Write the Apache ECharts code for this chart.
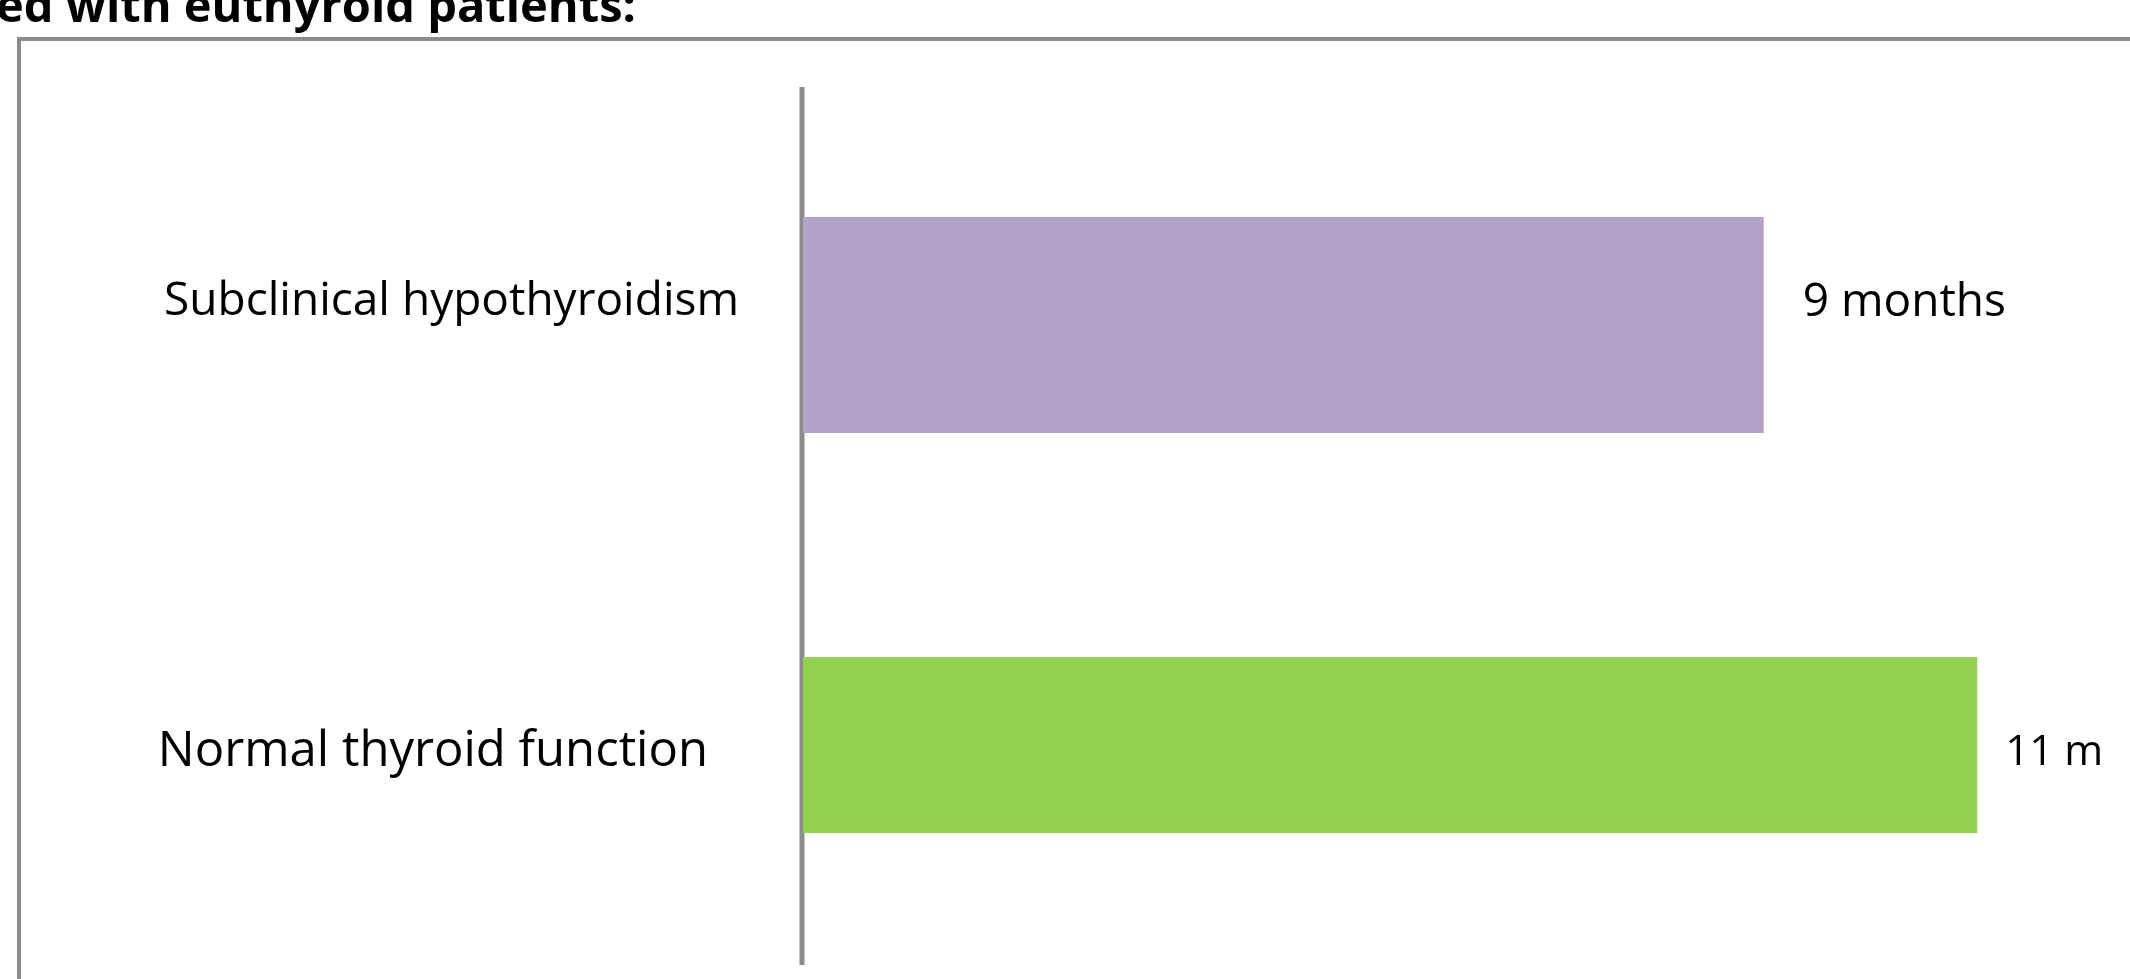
<!DOCTYPE html>
<html>
<head>
<meta charset="utf-8">
<script src="https://cdn.jsdelivr.net/npm/echarts@6/dist/echarts.min.js"></script>
<style>
  html, body { margin: 0; padding: 0; background: #fff; }
  #chrt_thyroid { width: 2130px; height: 979px; }
</style>
</head>
<body>
<div id="chrt_thyroid"></div>
<script>
// data (top to bottom)
var categories = ['Subclinical hypothyroidism', 'Normal thyroid function']
var months = [9, 11]
var valueLabels = ['9 months', '11 m']
var barColors = ['#b3a2c7', '#92d050']
var titleText = 'ed with euthyroid patients:'

// one grid per bar, the two bars are not the same thickness in the original
var rows = [
    { top: 217, height: 216, catSize: 46, catMargin: 64, catPad: [0, 0, 46, 0], valSize: 46, valDist: 39, valOffset: -22 },
    { top: 657, height: 176, catSize: 49, catMargin: 95, catPad: [14, 0, 0, 0], valSize: 42, valDist: 28, valOffset: 8 }
]

var chart = echarts.init(document.getElementById('chrt_thyroid'))

var option = {
    animation: false,
    tooltip: { show: false },
    grid: rows.map(function (r) {
        return { left: 803, right: 46, top: r.top, height: r.height, containLabel: false }
    }),
    xAxis: rows.map(function (r, i) {
        return { type: 'value', gridIndex: i, min: 0, max: 12, show: false }
    }),
    yAxis: rows.map(function (r, i) {
        return {
            type: 'category',
            gridIndex: i,
            data: [categories[i]],
            axisLine: { show: false },
            axisTick: { show: false },
            axisLabel: {
                margin: r.catMargin,
                formatter: '{t|{value}}',
                rich: {
                    t: { fontFamily: 'Open Sans', fontSize: r.catSize, color: '#000', padding: r.catPad }
                }
            }
        }
    }),
    series: rows.map(function (r, i) {
        return {
            type: 'bar',
            xAxisIndex: i,
            yAxisIndex: i,
            barWidth: r.height,
            data: [{ value: months[i], itemStyle: { color: barColors[i] } }],
            label: {
                show: true,
                position: 'right',
                distance: r.valDist,
                offset: [0, r.valOffset],
                fontFamily: 'Open Sans',
                fontSize: r.valSize,
                color: '#000',
                formatter: function () { return valueLabels[i] }
            }
        }
    }),
    graphic: [
        // title (cut off at top of picture)
        {
            type: 'text', left: -4, top: -15,
            style: { text: titleText, fontFamily: 'Open Sans', fontWeight: 'bold', fontSize: 47, fill: '#000' }
        },
        // outer frame
        {
            type: 'polyline',
            shape: { points: [[19, 979], [19, 39], [2130, 39]] },
            style: { stroke: '#8c8c8c', lineWidth: 4, fill: null }
        },
        // vertical axis line
        {
            type: 'line',
            shape: { x1: 802, y1: 87, x2: 802, y2: 965 },
            style: { stroke: '#8c8c8c', lineWidth: 5 }
        }
    ]
}

chart.setOption(option)
</script>
</body>
</html>
